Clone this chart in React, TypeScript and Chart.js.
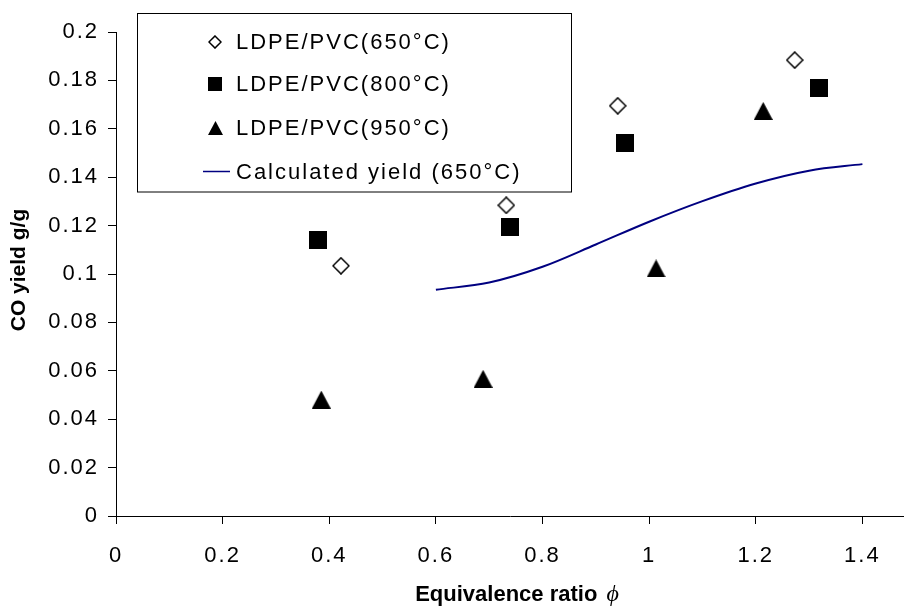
import React, { useEffect, useRef } from 'react';
import { Chart, registerables } from 'chart.js';

Chart.register(...registerables);

// ---- data ----
const X_TICKS = [0, 0.2, 0.4, 0.6, 0.8, 1, 1.2, 1.4];
const Y_TICKS = [0, 0.02, 0.04, 0.06, 0.08, 0.1, 0.12, 0.14, 0.16, 0.18, 0.2];
const X_MIN = 0;
const X_MAX = 1.478;
const Y_MIN = 0;
const Y_MAX = 0.2;

const LABEL_650 = 'LDPE/PVC(650°C)';
const LABEL_800 = 'LDPE/PVC(800°C)';
const LABEL_950 = 'LDPE/PVC(950°C)';
const LABEL_CALC = 'Calculated yield (650°C)';

const x650 = [0.422, 0.732, 0.941, 1.273];
const y650 = [0.1034, 0.1284, 0.1695, 0.1884];
const x800 = [0.378, 0.739, 0.955, 1.318];
const y800 = [0.114, 0.1195, 0.154, 0.1767];
const x950 = [0.385, 0.6885, 1.013, 1.214];
const y950 = [0.0481, 0.0567, 0.1023, 0.1674];
const xCalc = [0.6, 0.7, 0.8, 0.9, 1.0, 1.1, 1.2, 1.3, 1.4];
const yCalc = [0.0935, 0.0965, 0.103, 0.1122, 0.1216, 0.1301, 0.1374, 0.1427, 0.1454];

const X_TITLE = 'Equivalence ratio';
const X_TITLE_SYMBOL = '\u03D5';
const Y_TITLE = 'CO yield g/g';

const FONT_FAMILY = '"Liberation Sans", Arial, Helvetica, sans-serif';

function zip(xs: number[], ys: number[]) {
  return xs.map((x, i) => ({ x, y: ys[i] }));
}

function makeSprite(kind: string, w: number, h: number): HTMLCanvasElement {
  const c = document.createElement('canvas');
  c.width = w;
  c.height = h;
  const g = c.getContext('2d') as CanvasRenderingContext2D;
  g.beginPath();
  if (kind === 'diamond') {
    const lw = 1.5;
    const m = lw / 2 + 0.2;
    g.moveTo(w / 2, m);
    g.lineTo(w - m, h / 2);
    g.lineTo(w / 2, h - m);
    g.lineTo(m, h / 2);
    g.closePath();
    g.fillStyle = '#ffffff';
    g.fill();
    g.lineWidth = lw;
    g.strokeStyle = '#000000';
    g.stroke();
  } else if (kind === 'square') {
    g.fillStyle = '#000000';
    g.fillRect(0, 0, w, h);
  } else {
    g.moveTo(w / 2, 0);
    g.lineTo(w, h);
    g.lineTo(0, h);
    g.closePath();
    g.fillStyle = '#000000';
    g.fill();
  }
  return c;
}

export default function App() {
  const ref = useRef<HTMLCanvasElement>(null);

  useEffect(() => {
    const canvas = ref.current;
    if (!canvas) return;

    const sprites = {
      diamond: makeSprite('diamond', 18, 18),
      square: makeSprite('square', 18, 18),
      triangle: makeSprite('triangle', 19, 18),
    };
    const legendSprites = {
      diamond: makeSprite('diamond', 14, 14),
      square: makeSprite('square', 14, 14),
      triangle: makeSprite('triangle', 15, 14),
    };

    const decor = {
      id: 'decor',
      beforeDraw(chart: any) {
        chart.ctx.letterSpacing = '2px';
      },
      afterDraw(chart: any) {
        const ctx: CanvasRenderingContext2D = chart.ctx;
        const area = chart.chartArea;
        ctx.save();

        // ---- legend box ----
        const boxL = area.left + 21.5;
        const boxT = area.top - 18.5;
        const boxR = 571.5;
        const boxB = area.top + 160;
        ctx.fillStyle = '#ffffff';
        ctx.fillRect(boxL, boxT, boxR - boxL, boxB - boxT);
        ctx.lineWidth = 1;
        ctx.strokeStyle = '#000000';
        ctx.strokeRect(boxL, boxT, boxR - boxL, boxB - boxT);

        const rows = [41.7, 84, 127.5, 171.5];
        const markerX = 215;
        const textX = 236;
        const legendIcons = [legendSprites.diamond, legendSprites.square, legendSprites.triangle];
        ctx.font = `22px ${FONT_FAMILY}`;
        (ctx as any).letterSpacing = '2px';
        ctx.textBaseline = 'middle';
        ctx.textAlign = 'left';
        chart.data.datasets.forEach((ds: any, i: number) => {
          const y = rows[i];
          if (i < 3) {
            const s = legendIcons[i];
            ctx.drawImage(s, Math.round(markerX - s.width / 2), Math.round(y - s.height / 2));
          } else {
            ctx.beginPath();
            ctx.strokeStyle = ds.borderColor;
            ctx.lineWidth = 1.5;
            ctx.moveTo(203, y);
            ctx.lineTo(230, y);
            ctx.stroke();
          }
          ctx.fillStyle = '#000000';
          ctx.fillText(ds.label, textX, y + 1);
        });

        // ---- axis titles ----
        (ctx as any).letterSpacing = '0px';
        ctx.fillStyle = '#000000';
        ctx.font = `bold 22px ${FONT_FAMILY}`;
        const t1 = X_TITLE + ' ';
        const w1 = ctx.measureText(t1).width;
        ctx.font = `italic 24px "Liberation Serif", "DejaVu Serif", serif`;
        const w2 = ctx.measureText(X_TITLE_SYMBOL).width;
        const cx = 515.5;
        const startX = cx - (w1 + w2) / 2;
        ctx.textAlign = 'left';
        ctx.textBaseline = 'alphabetic';
        ctx.font = `bold 22px ${FONT_FAMILY}`;
        ctx.fillText(t1, startX, 601);
        ctx.font = `italic 24px "Liberation Serif", "DejaVu Serif", serif`;
        ctx.fillText(X_TITLE_SYMBOL, startX + w1 + 3, 601);

        ctx.translate(19, (area.top + area.bottom) / 2 - 4);
        ctx.rotate(-Math.PI / 2);
        ctx.font = `bold 21px ${FONT_FAMILY}`;
        ctx.textAlign = 'center';
        ctx.textBaseline = 'middle';
        ctx.fillText(Y_TITLE, 0, 0);
        ctx.restore();
      },
    };

    const fmt = (v: number) => String(Number(v.toFixed(2)));

    const chart = new Chart(canvas, {
      type: 'scatter',
      data: {
        datasets: [
          {
            label: LABEL_650,
            data: zip(x650, y650),
            pointStyle: sprites.diamond as any,
            pointRadius: 9,
            showLine: false,
          },
          {
            label: LABEL_800,
            data: zip(x800, y800),
            pointStyle: sprites.square as any,
            pointRadius: 9,
            showLine: false,
          },
          {
            label: LABEL_950,
            data: zip(x950, y950),
            pointStyle: sprites.triangle as any,
            pointRadius: 9,
            showLine: false,
          },
          {
            label: LABEL_CALC,
            data: zip(xCalc, yCalc),
            showLine: true,
            borderColor: '#000080',
            backgroundColor: '#000080',
            borderWidth: 2,
            pointRadius: 0,
            cubicInterpolationMode: 'monotone',
            fill: false,
          } as any,
        ],
      },
      options: {
        responsive: false,
        animation: false,
        devicePixelRatio: 1,
        layout: { autoPadding: false, padding: { top: 32, right: 0, bottom: 0, left: 0 } },
        plugins: {
          legend: { display: false },
          tooltip: { enabled: false },
          title: { display: false },
        },
        scales: {
          x: {
            type: 'linear',
            min: X_MIN,
            max: X_MAX,
            afterBuildTicks: (s: any) => {
              s.ticks = X_TICKS.map((v) => ({ value: v }));
            },
            afterFit: (s: any) => {
              s.height = 91;
              s.paddingLeft = 0;
              s.paddingRight = 0;
            },
            ticks: {
              callback: (v: any) => fmt(Number(v)),
              font: { size: 22, family: FONT_FAMILY },
              color: '#000000',
              padding: 19,
              maxRotation: 0,
              autoSkip: false,
            },
            grid: {
              drawOnChartArea: false,
              drawTicks: true,
              tickLength: 8,
              tickColor: '#000000',
              tickWidth: 1,
            },
            border: { display: true, color: '#000000', width: 1 },
            title: { display: false },
          },
          y: {
            type: 'linear',
            min: Y_MIN,
            max: Y_MAX,
            afterBuildTicks: (s: any) => {
              s.ticks = Y_TICKS.map((v) => ({ value: v }));
            },
            afterFit: (s: any) => {
              s.width = 116;
              s.paddingTop = 0;
              s.paddingBottom = 0;
            },
            ticks: {
              callback: (v: any) => fmt(Number(v)),
              font: { size: 22, family: FONT_FAMILY },
              color: '#000000',
              padding: 9,
              autoSkip: false,
            },
            grid: {
              drawOnChartArea: false,
              drawTicks: true,
              tickLength: 8,
              tickColor: '#000000',
              tickWidth: 1,
            },
            border: { display: true, color: '#000000', width: 1 },
            title: { display: false },
          },
        },
      } as any,
      plugins: [decor as any],
    });

    return () => {
      chart.destroy();
    };
  }, []);

  return (
    <div style={{ position: 'absolute', left: 0, top: 0, width: 904, height: 607, background: '#ffffff' }}>
      <canvas ref={ref} width={904} height={607} style={{ display: 'block', width: 904, height: 607 }} />
    </div>
  );
}
